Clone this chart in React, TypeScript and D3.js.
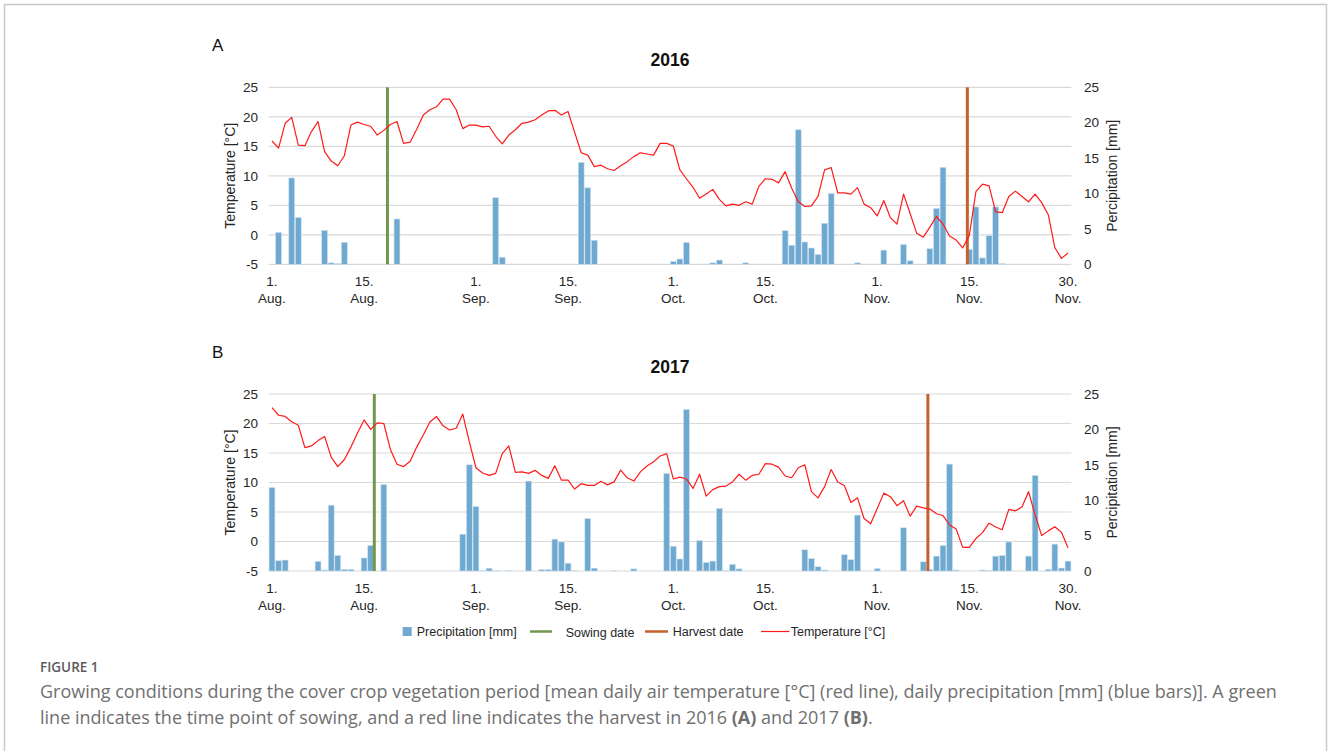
import React from "react";
import * as d3 from "d3";

// ---------- DATA ----------
const xTickIdx = [0, 14, 31, 45, 61, 75, 92, 106, 121];
const xTickDay = ["1.", "15.", "1.", "15.", "1.", "15.", "1.", "15.", "30."];
const xTickMonth = ["Aug.", "Aug.", "Sep.", "Sep.", "Oct.", "Oct.", "Nov.", "Nov.", "Nov."];
const tempTicks = [-5, 0, 5, 10, 15, 20, 25];
const precTicks = [0, 5, 10, 15, 20, 25];

const temp2016 = [
  15.9, 14.7, 18.9, 19.9, 15.2, 15.1, 17.5, 19.2, 14.1, 12.5,
  11.7, 13.4, 18.6, 19.1, 18.7, 18.4, 16.9, 17.7, 18.7, 19.2,
  15.5, 15.7, 17.9, 20.3, 21.2, 21.7, 23.0, 23.0, 21.2, 18.0,
  18.6, 18.6, 18.3, 18.4, 16.7, 15.4, 16.9, 17.8, 18.9, 19.1,
  19.5, 20.3, 21.0, 21.1, 20.3, 20.9, 17.4, 13.9, 13.5, 11.55,
  11.8, 11.2, 10.9, 11.7, 12.4, 13.25, 13.9, 13.7, 13.5, 15.5,
  15.5, 15.05, 11.0, 9.5, 8.05, 6.2, 6.9, 7.7, 6.0, 4.9,
  5.2, 5.0, 5.6, 5.2, 8.2, 9.5, 9.4, 8.8, 10.7, 7.9,
  5.6, 4.8, 4.9, 6.5, 11.0, 11.4, 7.1, 7.1, 6.9, 8.0,
  5.2, 4.6, 3.2, 5.8, 2.9, 1.8, 6.9, 3.6, 0.25, -0.4,
  1.3, 3.1, 1.8, -0.2, -0.9, -2.2, -0.1, 7.3, 8.6, 8.3,
  3.9, 3.75, 6.5, 7.4, 6.5, 5.6, 6.9, 5.45, 3.4, -2.2,
  -4.0, -3.1,
];

const precip2016 = [
  0, 4.5, 0, 12.2, 6.6, 0, 0, 0, 4.8, 0.2,
  0.1, 3.1, 0, 0, 0, 0, 0, 0, 0, 6.4,
  0, 0, 0, 0, 0, 0, 0, 0, 0, 0,
  0, 0, 0, 0, 9.4, 1.0, 0, 0, 0, 0,
  0, 0, 0, 0, 0, 0, 0, 14.4, 10.8, 3.4,
  0, 0, 0, 0, 0, 0, 0, 0, 0, 0,
  0, 0.4, 0.75, 3.1, 0, 0, 0, 0.2, 0.6, 0,
  0, 0, 0.2, 0, 0, 0, 0, 0, 4.75, 2.7,
  19.0, 3.15, 2.3, 1.4, 5.8, 10.0, 0, 0, 0, 0.2,
  0, 0, 0, 2.0, 0, 0, 2.8, 0.5, 0, 0,
  2.2, 7.9, 13.7, 0, 0, 0, 2.1, 8.1, 0.9, 4.05,
  8.1, 0.1, 0, 0, 0, 0, 0, 0, 0, 0,
  0, 0,
];

const temp2017 = [
  22.7, 21.4, 21.2, 20.3, 19.7, 15.9, 16.2, 17.1, 17.8, 14.3,
  12.7, 13.9, 16.0, 18.4, 20.6, 19.0, 20.1, 20.0, 15.6, 13.1,
  12.7, 13.6, 16.0, 18.05, 20.25, 21.2, 19.6, 18.9, 19.2, 21.6,
  16.9, 12.5, 11.6, 11.2, 11.55, 14.9, 16.2, 11.7, 11.8, 11.55,
  12.06, 11.2, 10.7, 12.85, 10.4, 10.4, 8.9, 9.8, 9.5, 9.5,
  10.2, 9.6, 10.1, 12.1, 10.8, 10.25, 11.8, 12.8, 13.5, 14.5,
  14.9, 10.6, 10.9, 10.6, 9.0, 11.4, 7.7, 8.8, 9.3, 9.4,
  10.1, 11.4, 10.4, 11.2, 11.4, 13.2, 13.1, 12.6, 11.1, 10.8,
  12.5, 13.0, 8.45, 7.4, 9.3, 12.2, 10.1, 9.5, 6.6, 7.4,
  3.9, 3.0, 5.6, 8.2, 7.6, 6.07, 6.9, 4.3, 6.0, 5.7,
  5.5, 4.7, 4.4, 2.8, 2.1, -1.0, -1.0, 0.5, 1.5, 3.1,
  2.46, 2.0, 5.45, 5.2, 5.85, 8.45, 4.5, 1.0, 1.8, 2.5,
  1.55, -1.05,
];

const precip2017 = [
  11.8, 1.46, 1.55, 0, 0, 0, 0, 1.37, 0.14, 9.3,
  2.2, 0.24, 0.24, 0, 1.84, 3.6, 0, 12.2, 0, 0,
  0, 0, 0, 0, 0, 0, 0, 0, 0, 5.2,
  15.0, 9.1, 0.1, 0.4, 0.05, 0, 0.05, 0, 0, 12.7,
  0, 0.2, 0.2, 4.5, 4.1, 1.1, 0.05, 0, 7.4, 0.4,
  0, 0, 0.05, 0, 0, 0.3, 0, 0, 0, 0,
  13.8, 3.5, 1.7, 22.8, 0, 4.3, 1.2, 1.4, 8.85, 0.05,
  0.94, 0.3, 0, 0, 0, 0, 0, 0, 0, 0,
  0, 3.0, 1.74, 0.6, 0.14, 0, 0, 2.3, 1.6, 7.9,
  0, 0, 0.33, 0, 0, 0, 6.1, 0, 0, 1.3,
  0.24, 2.1, 3.6, 15.1, 0.14, 0, 0, 0, 0.14, 0.05,
  2.1, 2.2, 4.1, 0, 0, 2.1, 13.5, 0, 0.24, 3.8,
  0.42, 1.4,
];

// day index (0 = 1 Aug) of sowing and harvest lines
const sowing = [17.55, 15.55];
const harvest = [105.7, 99.7];
const years = ["2016", "2017"];
const panelLetters = ["A", "B"];

// ---------- STYLE ----------
const FONT = "'Liberation Sans', Arial, sans-serif";
const BAR = "#70a9d0";
const GREEN = "#70974b";
const ORANGE = "#c6602f";
const RED = "#ff1a1a";
const GRID = "#d9d9d9";
const TXT = "#262626";

const W = 1328;
const H = 751;
const PLOT_L = 268.7;
const PLOT_R = 1071.3;
const PLOT_H = 177;

const days = d3.range(temp2016.length);
const xBand = d3.scaleBand<number>().domain(days).range([PLOT_L, PLOT_R]).padding(0);
const xC = d3.scaleLinear().domain([-0.5, days.length - 0.5]).range([PLOT_L, PLOT_R]);

function Panel({ top, temp, precip, sow, harv, year, letter }: any) {
  const bottom = top + PLOT_H;
  const yT = d3.scaleLinear().domain([-5, 25]).range([bottom, top]);
  const yP = d3.scaleLinear().domain([0, 25]).range([bottom, top]);
  const bw = xBand.bandwidth();
  const line = d3
    .line<number>()
    .x((_, i) => xC(i))
    .y((d) => yT(d));
  const midY = (top + bottom) / 2;
  return (
    <g fontFamily={FONT}>
      <text x={212} y={top - 36.5} fontSize={17} fill="#111">{letter}</text>
      <text x={(PLOT_L + PLOT_R) / 2} y={top - 21.5} fontSize={17.5} fontWeight="bold" textAnchor="middle" fill="#111">
        {year}
      </text>
      {tempTicks.map((t) => (
        <line key={"g" + t} x1={PLOT_L} x2={PLOT_R} y1={yT(t)} y2={yT(t)} stroke={GRID} strokeWidth={1.2} />
      ))}
      {tempTicks.map((t) => (
        <text key={"lt" + t} x={258} y={yT(t)} dy="0.35em" fontSize={13.5} textAnchor="end" fill={TXT}>
          {t}
        </text>
      ))}
      {precTicks.map((t) => (
        <text key={"rt" + t} x={1084} y={yP(t)} dy="0.35em" fontSize={13.5} textAnchor="start" fill={TXT}>
          {t}
        </text>
      ))}
      <text transform={`translate(235,${midY}) rotate(-90)`} fontSize={14} textAnchor="middle" fill={TXT}>
        Temperature [°C]
      </text>
      <text transform={`translate(1117,${midY}) rotate(-90)`} fontSize={14} textAnchor="middle" fill={TXT}>
        Percipitation [mm]
      </text>
      {xTickIdx.map((d, k) => (
        <g key={"xt" + d}>
          <text x={xC(d)} y={bottom + 21.5} fontSize={13.5} textAnchor="middle" fill={TXT}>
            {xTickDay[k]}
          </text>
          <text x={xC(d)} y={bottom + 38.5} fontSize={13.5} textAnchor="middle" fill={TXT}>
            {xTickMonth[k]}
          </text>
        </g>
      ))}
      {precip.map((p: number, i: number) =>
        p > 0 ? (
          <rect
            key={"b" + i}
            x={(xBand(i) as number) + 0.35}
            width={bw - 0.7}
            y={yP(p)}
            height={bottom - yP(p)}
            fill={BAR}
            stroke="#cfe2f1"
            strokeWidth={0.6}
          />
        ) : null
      )}
      <line x1={xC(sow)} x2={xC(sow)} y1={top} y2={bottom} stroke={GREEN} strokeWidth={3} />
      <line x1={xC(harv)} x2={xC(harv)} y1={top} y2={bottom} stroke={ORANGE} strokeWidth={3} />
      <path d={line(temp) as string} fill="none" stroke={RED} strokeWidth={1.2} strokeLinejoin="round" />
    </g>
  );
}

export default function App() {
  const tops = [87.3, 394];
  const temps = [temp2016, temp2017];
  const precs = [precip2016, precip2017];
  const legY = 631.5;
  return (
    <svg width={W} height={H} style={{ position: "absolute", left: 0, top: 0, background: "#fff" }}>
      <rect x={4.5} y={4.5} width={1322} height={780} fill="#fff" stroke="#c8c8c8" strokeWidth={1.5} />
      {tops.map((t, k) => (
        <Panel
          key={k}
          top={t}
          temp={temps[k]}
          precip={precs[k]}
          sow={sowing[k]}
          harv={harvest[k]}
          year={years[k]}
          letter={panelLetters[k]}
        />
      ))}
      <g fontFamily={FONT} fontSize={12.5} fill={TXT}>
        <rect x={402.7} y={legY - 4.5} width={9} height={9} fill={BAR} />
        <text x={416.7} y={legY + 4.5}>Precipitation [mm]</text>
        <line x1={530} x2={552} y1={legY} y2={legY} stroke={GREEN} strokeWidth={2.5} />
        <text x={565.7} y={legY + 5.5}>Sowing date</text>
        <line x1={645} x2={668} y1={legY} y2={legY} stroke={ORANGE} strokeWidth={2.5} />
        <text x={672.7} y={legY + 4.5}>Harvest date</text>
        <line x1={761} x2={789.5} y1={legY} y2={legY} stroke={RED} strokeWidth={1.2} />
        <text x={790.7} y={legY + 4.5}>Temperature [°C]</text>
      </g>
      <g fontFamily="'Open Sans', 'Noto Sans', sans-serif" fill="#707070">
        <text x={40} y={672} fontSize={13.5} fontWeight={600} fill="#5a5a5a">FIGURE 1</text>
        <text x={40} y={698} fontSize={18}>
          Growing conditions during the cover crop vegetation period [mean daily air temperature [°C] (red line), daily precipitation [mm] (blue bars)]. A green
        </text>
        <text x={40} y={724} fontSize={18}>
          line indicates the time point of sowing, and a red line indicates the harvest in 2016{" "}
          <tspan fontWeight="bold">(A)</tspan> and 2017 <tspan fontWeight="bold">(B)</tspan>.
        </text>
      </g>
    </svg>
  );
}
